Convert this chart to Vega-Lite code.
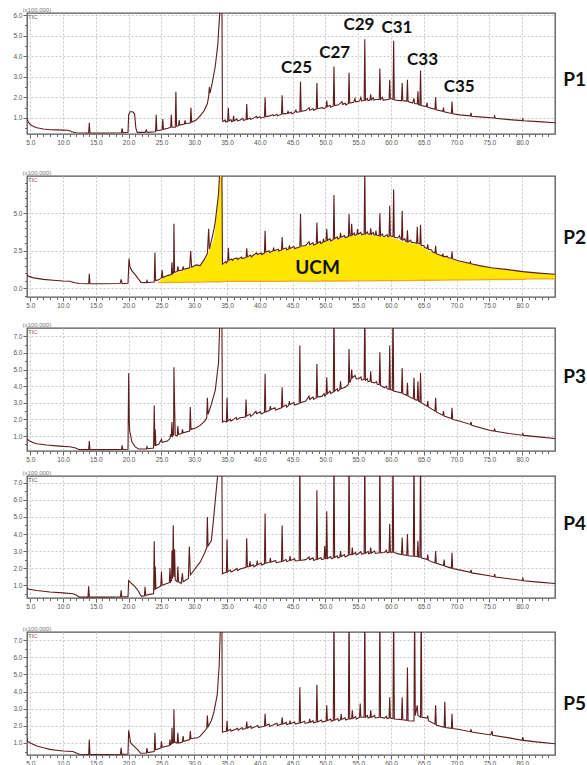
{
"$schema": "https://vega.github.io/schema/vega-lite/v6.json",
"padding": {"left": 12, "top": 5, "right": 0, "bottom": 0},
"background": "white",
"config": {
 "view": {"stroke": "#555", "strokeWidth": 1.3},
 "axis": {"labelFont": "Liberation Sans", "labelFontSize": 6.5, "labelColor": "#555", "tickColor": "#666", "domain": false, "gridColor": "#bbb", "gridDash": [2, 2], "gridWidth": 0.8, "labelPadding": 1, "labelOverlap": false, "labelBound": false},
 "axisY": {"titleAngle": 0, "titleAlign": "left", "titleBaseline": "bottom", "titleX": -5, "titleY": -1, "titleFontSize": 6, "titleFontWeight": "normal", "titleColor": "#777", "titleFont": "Liberation Sans"}
},
"datasets": {
 "p1": [
{"t":4.5,"v":0.98},{"t":4.7,"v":0.8},{"t":5.0,"v":0.68},{"t":5.5,"v":0.58},{"t":6.0,"v":0.52},{"t":7.0,"v":0.46},{"t":8.0,"v":0.43},{"t":9.0,"v":0.42},{"t":10.0,"v":0.41},{"t":10.8,"v":0.40},{"t":11.3,"v":0.33},{"t":12.0,"v":0.28},{"t":13.9,"v":0.27},{"t":14.0,"v":0.76},{"t":14.1,"v":0.27},{"t":16.0,"v":0.27},{"t":18.9,"v":0.28},{"t":19.0,"v":0.5},{"t":19.1,"v":0.28},{"t":19.9,"v":0.3},{"t":20.0,"v":1.15},{"t":20.2,"v":1.3},{"t":20.6,"v":1.3},{"t":20.9,"v":1.2},{"t":21.1,"v":0.5},{"t":21.3,"v":0.3},{"t":22.5,"v":0.3},{"t":22.7,"v":0.42},{"t":22.8,"v":0.3},{"t":24.1,"v":0.33},{"t":24.2,"v":1.15},{"t":24.3,"v":0.38},{"t":25.1,"v":0.42},{"t":25.2,"v":0.95},{"t":25.3,"v":0.45},{"t":26.0,"v":0.5},{"t":26.4,"v":0.55},{"t":26.5,"v":1.15},{"t":26.6,"v":0.55},{"t":27.1,"v":0.55},{"t":27.2,"v":2.27},{"t":27.3,"v":0.6},{"t":27.6,"v":0.62},{"t":27.7,"v":0.9},{"t":27.8,"v":0.65},{"t":28.5,"v":0.7},{"t":28.6,"v":0.88},{"t":28.7,"v":0.72},{"t":29.4,"v":0.75},{"t":29.5,"v":1.5},{"t":29.6,"v":0.8},{"t":30.3,"v":0.9},{"t":30.9,"v":1.1},{"t":31.5,"v":1.35},{"t":32.0,"v":1.7},{"t":32.2,"v":2.05},{"t":32.3,"v":2.5},{"t":32.4,"v":2.2},{"t":32.8,"v":2.8},{"t":33.2,"v":3.5},{"t":33.6,"v":4.6},{"t":33.9,"v":6.2},{"t":34.1,"v":8},{"t":34.2,"v":8},{"t":34.3,"v":0.9},{"t":34.4,"v":0.82},{"t":34.7,"v":0.9},{"t":34.8,"v":0.8},{"t":35.1,"v":0.85},{"t":35.2,"v":1.5},{"t":35.3,"v":0.85},{"t":35.6,"v":0.92},{"t":35.7,"v":0.82},{"t":35.9,"v":0.85},{"t":36.0,"v":1.1},{"t":36.1,"v":0.86},{"t":36.5,"v":0.95},{"t":36.6,"v":0.86},{"t":37.0,"v":0.9},{"t":37.4,"v":0.98},{"t":37.5,"v":0.88},{"t":37.9,"v":0.92},{"t":38.0,"v":1.68},{"t":38.1,"v":0.93},{"t":38.5,"v":1.0},{"t":38.6,"v":0.93},{"t":39.0,"v":0.98},{"t":39.5,"v":1.08},{"t":39.6,"v":1.0},{"t":40.0,"v":1.06},{"t":40.1,"v":0.99},{"t":40.7,"v":1.05},{"t":40.8,"v":2.0},{"t":40.9,"v":1.06},{"t":41.5,"v":1.1},{"t":42.0,"v":1.16},{"t":42.1,"v":1.1},{"t":42.6,"v":1.18},{"t":42.7,"v":1.1},{"t":43.3,"v":1.18},{"t":43.4,"v":2.1},{"t":43.5,"v":1.2},{"t":44.2,"v":1.22},{"t":44.3,"v":1.32},{"t":44.4,"v":1.23},{"t":44.8,"v":1.28},{"t":44.9,"v":1.2},{"t":45.3,"v":1.27},{"t":45.5,"v":1.38},{"t":45.6,"v":1.28},{"t":46.1,"v":1.3},{"t":46.2,"v":2.76},{"t":46.3,"v":1.32},{"t":47.0,"v":1.36},{"t":47.5,"v":1.5},{"t":47.6,"v":1.38},{"t":48.1,"v":1.45},{"t":48.2,"v":1.37},{"t":48.6,"v":1.43},{"t":48.7,"v":2.7},{"t":48.8,"v":1.45},{"t":49.5,"v":1.5},{"t":49.8,"v":1.45},{"t":50.1,"v":1.52},{"t":50.2,"v":1.85},{"t":50.3,"v":1.55},{"t":50.7,"v":1.62},{"t":50.8,"v":1.52},{"t":51.2,"v":1.58},{"t":51.3,"v":3.5},{"t":51.4,"v":1.6},{"t":52.0,"v":1.64},{"t":52.5,"v":1.8},{"t":52.6,"v":1.66},{"t":53.0,"v":1.72},{"t":53.1,"v":1.63},{"t":53.5,"v":1.7},{"t":53.6,"v":3.2},{"t":53.7,"v":1.72},{"t":54.3,"v":1.76},{"t":54.5,"v":1.95},{"t":54.6,"v":1.78},{"t":55.2,"v":1.82},{"t":55.4,"v":2.0},{"t":55.5,"v":1.83},{"t":55.9,"v":1.85},{"t":56.0,"v":4.83},{"t":56.1,"v":1.86},{"t":56.4,"v":1.95},{"t":56.5,"v":1.84},{"t":56.8,"v":1.88},{"t":56.9,"v":2.15},{"t":57.0,"v":1.88},{"t":57.3,"v":1.98},{"t":57.4,"v":1.86},{"t":57.6,"v":1.9},{"t":58.2,"v":1.9},{"t":58.3,"v":3.4},{"t":58.4,"v":1.9},{"t":58.7,"v":2.0},{"t":58.8,"v":1.86},{"t":59.0,"v":1.88},{"t":59.7,"v":1.9},{"t":59.8,"v":2.85},{"t":59.9,"v":1.95},{"t":60.3,"v":1.9},{"t":60.4,"v":4.75},{"t":60.5,"v":1.88},{"t":61.0,"v":1.85},{"t":61.6,"v":1.84},{"t":61.7,"v":2.7},{"t":61.8,"v":1.84},{"t":62.4,"v":1.82},{"t":62.5,"v":2.85},{"t":62.6,"v":1.8},{"t":63.3,"v":1.72},{"t":63.5,"v":1.95},{"t":63.6,"v":1.7},{"t":64.0,"v":1.68},{"t":64.1,"v":2.3},{"t":64.2,"v":1.65},{"t":64.4,"v":1.62},{"t":64.5,"v":3.3},{"t":64.6,"v":1.6},{"t":65.4,"v":1.55},{"t":65.5,"v":1.75},{"t":65.6,"v":1.52},{"t":66.7,"v":1.42},{"t":66.8,"v":2.0},{"t":66.9,"v":1.4},{"t":67.9,"v":1.32},{"t":68.0,"v":1.5},{"t":68.1,"v":1.3},{"t":69.2,"v":1.22},{"t":69.3,"v":1.8},{"t":69.4,"v":1.2},{"t":70.5,"v":1.15},{"t":72.1,"v":1.1},{"t":72.2,"v":1.25},{"t":72.3,"v":1.08},{"t":73.5,"v":1.05},{"t":75.7,"v":1.0},{"t":75.8,"v":1.1},{"t":75.9,"v":0.98},{"t":78.0,"v":0.92},{"t":80.0,"v":0.87},{"t":80.1,"v":0.95},{"t":80.2,"v":0.86},{"t":82.5,"v":0.82},{"t":85.0,"v":0.77}
 ],
 "p2": [
{"t":4.5,"v":0.87},{"t":4.8,"v":0.78},{"t":5.5,"v":0.68},{"t":7.0,"v":0.58},{"t":8.5,"v":0.52},{"t":10.0,"v":0.47},{"t":11.0,"v":0.45},{"t":11.8,"v":0.35},{"t":12.5,"v":0.3},{"t":13.9,"v":0.29},{"t":14.0,"v":0.96},{"t":14.1,"v":0.29},{"t":16.0,"v":0.29},{"t":18.7,"v":0.3},{"t":18.85,"v":0.58},{"t":19.0,"v":0.3},{"t":19.9,"v":0.32},{"t":20.05,"v":1.97},{"t":20.2,"v":1.4},{"t":20.5,"v":1.15},{"t":21.0,"v":0.9},{"t":21.5,"v":0.6},{"t":21.9,"v":0.38},{"t":22.7,"v":0.36},{"t":22.8,"v":0.5},{"t":22.9,"v":0.37},{"t":23.9,"v":0.4},{"t":24.0,"v":2.37},{"t":24.1,"v":0.5},{"t":24.6,"v":0.55},{"t":25.0,"v":0.7},{"t":25.1,"v":1.2},{"t":25.2,"v":0.7},{"t":26.0,"v":0.85},{"t":26.5,"v":0.9},{"t":26.6,"v":1.73},{"t":26.7,"v":0.95},{"t":26.85,"v":1.0},{"t":26.9,"v":4.3},{"t":27.0,"v":1.05},{"t":27.4,"v":1.1},{"t":27.5,"v":1.45},{"t":27.6,"v":1.15},{"t":28.2,"v":1.2},{"t":28.3,"v":1.45},{"t":28.4,"v":1.25},{"t":29.3,"v":1.35},{"t":29.45,"v":2.48},{"t":29.6,"v":1.4},{"t":30.3,"v":1.55},{"t":30.9,"v":1.5},{"t":31.5,"v":1.9},{"t":32.0,"v":2.3},{"t":32.2,"v":3.96},{"t":32.3,"v":2.6},{"t":32.8,"v":3.5},{"t":33.2,"v":4.4},{"t":33.7,"v":6.3},{"t":33.9,"v":8},{"t":34.2,"v":9},{"t":34.3,"v":1.59},{"t":34.5,"v":1.65},{"t":34.8,"v":1.78},{"t":34.9,"v":1.68},{"t":35.1,"v":1.8},{"t":35.2,"v":2.7},{"t":35.3,"v":1.85},{"t":35.7,"v":1.95},{"t":35.8,"v":1.85},{"t":36.0,"v":1.94},{"t":36.5,"v":2.02},{"t":36.6,"v":1.92},{"t":37.2,"v":2.08},{"t":37.3,"v":1.97},{"t":37.9,"v":2.05},{"t":38.0,"v":2.66},{"t":38.1,"v":2.1},{"t":38.6,"v":2.2},{"t":38.7,"v":2.08},{"t":39.0,"v":2.2},{"t":39.5,"v":2.35},{"t":39.6,"v":2.25},{"t":40.2,"v":2.35},{"t":40.3,"v":2.24},{"t":40.7,"v":2.35},{"t":40.8,"v":3.83},{"t":40.9,"v":2.4},{"t":41.4,"v":2.5},{"t":41.5,"v":2.38},{"t":42.0,"v":2.5},{"t":42.1,"v":2.7},{"t":42.2,"v":2.5},{"t":42.8,"v":2.6},{"t":42.9,"v":2.48},{"t":43.3,"v":2.55},{"t":43.4,"v":3.42},{"t":43.5,"v":2.6},{"t":44.0,"v":2.68},{"t":44.1,"v":2.56},{"t":44.4,"v":2.62},{"t":44.5,"v":2.85},{"t":44.6,"v":2.65},{"t":45.2,"v":2.78},{"t":45.3,"v":2.64},{"t":46.1,"v":2.75},{"t":46.2,"v":4.95},{"t":46.3,"v":2.8},{"t":47.0,"v":2.85},{"t":47.5,"v":3.1},{"t":47.6,"v":2.9},{"t":48.1,"v":3.02},{"t":48.2,"v":2.88},{"t":48.6,"v":2.95},{"t":48.7,"v":4.38},{"t":48.8,"v":3.0},{"t":49.2,"v":3.12},{"t":49.3,"v":2.98},{"t":49.6,"v":3.05},{"t":49.7,"v":3.3},{"t":49.8,"v":3.1},{"t":50.1,"v":3.15},{"t":50.2,"v":3.96},{"t":50.3,"v":3.18},{"t":50.7,"v":3.3},{"t":50.8,"v":3.15},{"t":51.2,"v":3.25},{"t":51.3,"v":6.22},{"t":51.4,"v":3.3},{"t":51.8,"v":3.42},{"t":51.9,"v":3.28},{"t":52.2,"v":3.35},{"t":52.3,"v":3.7},{"t":52.4,"v":3.4},{"t":52.9,"v":3.52},{"t":53.0,"v":3.38},{"t":53.5,"v":3.45},{"t":53.6,"v":4.95},{"t":53.7,"v":3.5},{"t":53.9,"v":3.5},{"t":54.0,"v":4.3},{"t":54.1,"v":3.55},{"t":54.4,"v":3.68},{"t":54.5,"v":3.52},{"t":54.8,"v":3.6},{"t":54.9,"v":3.95},{"t":55.0,"v":3.6},{"t":55.4,"v":3.72},{"t":55.5,"v":3.58},{"t":55.9,"v":3.62},{"t":56.0,"v":8},{"t":56.1,"v":3.62},{"t":56.4,"v":3.75},{"t":56.5,"v":3.6},{"t":56.8,"v":3.6},{"t":56.9,"v":4.0},{"t":57.0,"v":3.6},{"t":57.3,"v":3.72},{"t":57.4,"v":3.55},{"t":57.6,"v":3.55},{"t":57.7,"v":3.85},{"t":57.8,"v":3.55},{"t":58.2,"v":3.5},{"t":58.3,"v":5.0},{"t":58.4,"v":3.5},{"t":58.7,"v":3.62},{"t":58.8,"v":3.46},{"t":59.0,"v":3.45},{"t":59.4,"v":3.58},{"t":59.5,"v":3.44},{"t":59.7,"v":3.45},{"t":59.8,"v":5.5},{"t":59.9,"v":3.5},{"t":60.3,"v":3.45},{"t":60.4,"v":6.6},{"t":60.5,"v":3.4},{"t":61.0,"v":3.35},{"t":61.3,"v":3.5},{"t":61.4,"v":3.3},{"t":61.6,"v":3.25},{"t":61.7,"v":5.17},{"t":61.8,"v":3.2},{"t":62.1,"v":3.3},{"t":62.2,"v":3.14},{"t":62.4,"v":3.1},{"t":62.5,"v":3.87},{"t":62.6,"v":3.08},{"t":63.0,"v":3.2},{"t":63.1,"v":3.05},{"t":63.5,"v":3.05},{"t":63.9,"v":3.0},{"t":64.0,"v":4.1},{"t":64.1,"v":3.0},{"t":64.4,"v":2.95},{"t":64.5,"v":4.23},{"t":64.6,"v":2.85},{"t":65.0,"v":2.85},{"t":65.1,"v":2.72},{"t":65.5,"v":2.65},{"t":65.6,"v":2.93},{"t":65.7,"v":2.6},{"t":66.2,"v":2.55},{"t":66.3,"v":2.42},{"t":66.7,"v":2.35},{"t":66.8,"v":2.82},{"t":66.9,"v":2.3},{"t":67.8,"v":2.15},{"t":67.9,"v":2.3},{"t":68.0,"v":2.1},{"t":68.6,"v":2.12},{"t":68.7,"v":2.03},{"t":69.2,"v":2.0},{"t":69.3,"v":2.44},{"t":69.4,"v":1.95},{"t":70.4,"v":1.81},{"t":72.0,"v":1.65},{"t":72.1,"v":1.75},{"t":72.2,"v":1.62},{"t":73.5,"v":1.5},{"t":75.3,"v":1.36},{"t":77.5,"v":1.25},{"t":80.1,"v":1.1},{"t":82.5,"v":1.0},{"t":85.0,"v":0.92}
 ],
 "ucm": [
{"t":24.5,"top":0.36,"bot":0.36},{"t":25.0,"top":0.6,"bot":0.36},{"t":26.0,"top":0.8,"bot":0.37},{"t":27.0,"top":0.95,"bot":0.38},{"t":28.0,"top":1.1,"bot":0.38},{"t":29.0,"top":1.3,"bot":0.39},{"t":30.0,"top":1.45,"bot":0.4},{"t":31.0,"top":1.5,"bot":0.4},{"t":32.0,"top":2.2,"bot":0.41},{"t":33.0,"top":3.3,"bot":0.42},{"t":33.7,"top":6.2,"bot":0.42},{"t":33.9,"top":8,"bot":0.42},{"t":34.2,"top":9,"bot":0.43},{"t":34.3,"top":1.55,"bot":0.43},{"t":35.0,"top":1.75,"bot":0.44},{"t":36.0,"top":1.9,"bot":0.44},{"t":38.0,"top":2.05,"bot":0.45},{"t":40.0,"top":2.3,"bot":0.45},{"t":42.0,"top":2.45,"bot":0.45},{"t":45.0,"top":2.65,"bot":0.46},{"t":48.0,"top":2.9,"bot":0.46},{"t":50.0,"top":3.1,"bot":0.47},{"t":52.0,"top":3.3,"bot":0.47},{"t":54.0,"top":3.5,"bot":0.48},{"t":56.0,"top":3.58,"bot":0.48},{"t":58.0,"top":3.48,"bot":0.49},{"t":60.0,"top":3.4,"bot":0.5},{"t":62.0,"top":3.08,"bot":0.5},{"t":64.0,"top":2.95,"bot":0.51},{"t":65.0,"top":2.7,"bot":0.52},{"t":66.0,"top":2.45,"bot":0.52},{"t":68.0,"top":2.1,"bot":0.53},{"t":70.0,"top":1.83,"bot":0.54},{"t":72.0,"top":1.63,"bot":0.55},{"t":75.0,"top":1.37,"bot":0.56},{"t":78.0,"top":1.2,"bot":0.57},{"t":80.5,"top":1.1,"bot":0.58},{"t":80.6,"top":1.09,"bot":0.62},{"t":82.0,"top":1.0,"bot":0.62},{"t":85.0,"top":0.92,"bot":0.62}
 ],
 "p3": [
{"t":4.5,"v":0.84},{"t":4.8,"v":0.72},{"t":5.5,"v":0.6},{"t":6.0,"v":0.54},{"t":7.5,"v":0.46},{"t":9.0,"v":0.41},{"t":10.0,"v":0.38},{"t":11.0,"v":0.36},{"t":11.8,"v":0.3},{"t":12.5,"v":0.18},{"t":13.9,"v":0.18},{"t":14.0,"v":0.7},{"t":14.1,"v":0.18},{"t":16.0,"v":0.18},{"t":18.9,"v":0.19},{"t":19.0,"v":0.44},{"t":19.1,"v":0.19},{"t":19.9,"v":0.2},{"t":20.0,"v":4.78},{"t":20.1,"v":1.9},{"t":20.15,"v":1.34},{"t":20.5,"v":0.64},{"t":21.0,"v":0.35},{"t":21.5,"v":0.22},{"t":22.7,"v":0.22},{"t":22.8,"v":0.35},{"t":22.9,"v":0.24},{"t":23.8,"v":0.28},{"t":23.9,"v":2.84},{"t":24.0,"v":0.4},{"t":24.05,"v":1.4},{"t":24.15,"v":0.45},{"t":24.6,"v":0.5},{"t":25.0,"v":0.8},{"t":25.1,"v":0.62},{"t":25.9,"v":0.7},{"t":26.3,"v":0.85},{"t":26.4,"v":1.1},{"t":26.5,"v":0.95},{"t":26.6,"v":1.84},{"t":26.7,"v":1.0},{"t":26.85,"v":1.1},{"t":26.9,"v":5.14},{"t":27.0,"v":2.9},{"t":27.1,"v":1.05},{"t":27.4,"v":1.0},{"t":27.5,"v":1.6},{"t":27.6,"v":1.1},{"t":28.1,"v":1.15},{"t":28.2,"v":1.4},{"t":28.3,"v":1.2},{"t":29.3,"v":1.3},{"t":29.4,"v":2.74},{"t":29.5,"v":1.4},{"t":30.3,"v":1.5},{"t":30.9,"v":1.64},{"t":31.6,"v":1.9},{"t":31.9,"v":2.1},{"t":32.0,"v":3.3},{"t":32.1,"v":2.3},{"t":32.6,"v":2.9},{"t":33.2,"v":3.74},{"t":33.7,"v":5.4},{"t":33.9,"v":8},{"t":34.2,"v":9},{"t":34.3,"v":1.84},{"t":34.5,"v":1.9},{"t":34.9,"v":1.85},{"t":35.0,"v":3.3},{"t":35.1,"v":1.9},{"t":35.5,"v":2.02},{"t":35.6,"v":1.9},{"t":36.0,"v":2.0},{"t":36.4,"v":2.12},{"t":36.5,"v":1.98},{"t":37.0,"v":2.1},{"t":37.8,"v":2.15},{"t":37.9,"v":3.2},{"t":38.0,"v":2.2},{"t":38.5,"v":2.32},{"t":38.6,"v":2.18},{"t":39.0,"v":2.3},{"t":39.4,"v":2.5},{"t":39.5,"v":2.35},{"t":40.1,"v":2.46},{"t":40.2,"v":2.33},{"t":40.7,"v":2.42},{"t":40.8,"v":4.74},{"t":40.9,"v":2.45},{"t":41.5,"v":2.55},{"t":41.6,"v":2.8},{"t":41.7,"v":2.6},{"t":42.3,"v":2.7},{"t":42.4,"v":2.56},{"t":43.3,"v":2.7},{"t":43.4,"v":3.94},{"t":43.5,"v":2.75},{"t":44.0,"v":2.88},{"t":44.1,"v":2.74},{"t":44.4,"v":2.85},{"t":44.5,"v":3.1},{"t":44.6,"v":2.9},{"t":45.2,"v":3.02},{"t":45.3,"v":2.86},{"t":46.0,"v":2.95},{"t":46.1,"v":6.44},{"t":46.2,"v":3.0},{"t":47.0,"v":3.1},{"t":47.5,"v":3.4},{"t":47.6,"v":3.2},{"t":48.1,"v":3.35},{"t":48.2,"v":3.2},{"t":48.6,"v":3.3},{"t":48.7,"v":5.34},{"t":48.8,"v":3.35},{"t":49.5,"v":3.4},{"t":49.8,"v":3.55},{"t":49.9,"v":3.4},{"t":50.1,"v":3.5},{"t":50.2,"v":4.54},{"t":50.3,"v":3.55},{"t":50.7,"v":3.7},{"t":50.8,"v":3.55},{"t":51.2,"v":3.65},{"t":51.3,"v":9},{"t":51.4,"v":3.7},{"t":51.8,"v":3.85},{"t":51.9,"v":3.7},{"t":52.2,"v":3.8},{"t":52.3,"v":4.3},{"t":52.4,"v":3.85},{"t":53.0,"v":3.94},{"t":53.5,"v":4.1},{"t":53.6,"v":6.24},{"t":53.7,"v":4.2},{"t":53.9,"v":4.4},{"t":54.0,"v":5.0},{"t":54.1,"v":4.5},{"t":54.5,"v":4.64},{"t":54.7,"v":4.45},{"t":55.0,"v":4.44},{"t":55.4,"v":4.55},{"t":55.5,"v":4.38},{"t":55.9,"v":4.4},{"t":56.0,"v":9},{"t":56.1,"v":4.35},{"t":56.4,"v":4.45},{"t":56.5,"v":4.28},{"t":56.8,"v":4.3},{"t":56.9,"v":4.9},{"t":57.0,"v":4.25},{"t":57.5,"v":4.2},{"t":57.8,"v":4.28},{"t":57.9,"v":4.12},{"t":58.2,"v":4.1},{"t":58.3,"v":6.04},{"t":58.4,"v":4.05},{"t":59.0,"v":3.9},{"t":59.3,"v":4.0},{"t":59.4,"v":3.85},{"t":59.7,"v":3.8},{"t":59.8,"v":6.44},{"t":59.9,"v":3.8},{"t":60.2,"v":3.75},{"t":60.3,"v":9},{"t":60.4,"v":3.7},{"t":61.0,"v":3.65},{"t":61.6,"v":3.6},{"t":61.7,"v":5.1},{"t":61.8,"v":3.55},{"t":62.4,"v":3.45},{"t":62.5,"v":4.2},{"t":62.6,"v":3.4},{"t":63.4,"v":3.25},{"t":63.5,"v":4.5},{"t":63.6,"v":3.2},{"t":64.0,"v":3.15},{"t":64.1,"v":4.3},{"t":64.2,"v":3.1},{"t":64.4,"v":3.05},{"t":64.5,"v":4.8},{"t":64.6,"v":3.0},{"t":65.5,"v":2.8},{"t":65.6,"v":3.1},{"t":65.7,"v":2.75},{"t":66.7,"v":2.5},{"t":66.8,"v":3.3},{"t":66.9,"v":2.45},{"t":67.9,"v":2.25},{"t":68.0,"v":2.5},{"t":68.1,"v":2.2},{"t":69.2,"v":2.05},{"t":69.3,"v":2.7},{"t":69.4,"v":2.0},{"t":70.4,"v":1.9},{"t":72.1,"v":1.7},{"t":72.2,"v":1.85},{"t":72.3,"v":1.65},{"t":75.0,"v":1.35},{"t":75.7,"v":1.3},{"t":75.8,"v":1.45},{"t":75.9,"v":1.28},{"t":78.0,"v":1.15},{"t":80.0,"v":1.05},{"t":80.1,"v":1.15},{"t":80.2,"v":1.04},{"t":82.5,"v":0.95},{"t":85.0,"v":0.85}
 ],
 "p4": [
{"t":4.5,"v":0.82},{"t":4.8,"v":0.76},{"t":6.0,"v":0.69},{"t":8.0,"v":0.6},{"t":10.0,"v":0.55},{"t":11.5,"v":0.5},{"t":12.0,"v":0.42},{"t":12.5,"v":0.3},{"t":13.8,"v":0.3},{"t":13.9,"v":0.94},{"t":14.0,"v":0.3},{"t":16.0,"v":0.3},{"t":18.75,"v":0.31},{"t":18.85,"v":0.7},{"t":18.95,"v":0.31},{"t":19.9,"v":0.33},{"t":20.0,"v":1.27},{"t":20.3,"v":1.15},{"t":21.0,"v":0.9},{"t":21.5,"v":0.65},{"t":21.8,"v":0.42},{"t":22.0,"v":0.35},{"t":22.4,"v":0.38},{"t":22.5,"v":0.9},{"t":22.6,"v":0.4},{"t":23.0,"v":0.45},{"t":23.8,"v":0.5},{"t":23.9,"v":3.57},{"t":24.0,"v":0.7},{"t":24.05,"v":2.1},{"t":24.15,"v":0.8},{"t":24.5,"v":0.87},{"t":24.9,"v":0.95},{"t":25.0,"v":1.8},{"t":25.1,"v":1.0},{"t":25.5,"v":1.05},{"t":26.2,"v":1.15},{"t":26.3,"v":2.0},{"t":26.4,"v":1.2},{"t":26.55,"v":1.3},{"t":26.6,"v":3.04},{"t":26.7,"v":1.4},{"t":26.8,"v":4.51},{"t":26.9,"v":1.5},{"t":27.0,"v":3.1},{"t":27.1,"v":1.3},{"t":27.4,"v":1.2},{"t":27.5,"v":2.1},{"t":27.6,"v":1.2},{"t":28.0,"v":1.1},{"t":28.2,"v":1.7},{"t":28.3,"v":1.2},{"t":29.1,"v":1.4},{"t":29.25,"v":3.27},{"t":29.4,"v":1.6},{"t":30.0,"v":1.9},{"t":30.5,"v":2.16},{"t":30.9,"v":2.35},{"t":31.6,"v":2.9},{"t":31.9,"v":3.2},{"t":32.0,"v":5.0},{"t":32.1,"v":3.3},{"t":32.6,"v":3.6},{"t":32.9,"v":4.7},{"t":33.4,"v":6.76},{"t":33.7,"v":8},{"t":34.2,"v":9},{"t":34.3,"v":1.67},{"t":34.5,"v":1.72},{"t":34.9,"v":1.75},{"t":35.0,"v":3.69},{"t":35.1,"v":1.78},{"t":35.5,"v":1.9},{"t":35.6,"v":1.78},{"t":36.0,"v":1.85},{"t":36.5,"v":1.98},{"t":36.6,"v":1.86},{"t":37.0,"v":1.95},{"t":37.9,"v":2.05},{"t":38.0,"v":3.75},{"t":38.1,"v":2.08},{"t":38.4,"v":2.1},{"t":38.5,"v":2.4},{"t":38.6,"v":2.12},{"t":39.0,"v":2.2},{"t":39.1,"v":2.08},{"t":39.5,"v":2.18},{"t":39.6,"v":2.45},{"t":39.7,"v":2.2},{"t":40.2,"v":2.3},{"t":40.3,"v":2.18},{"t":40.7,"v":2.25},{"t":40.8,"v":5.2},{"t":40.9,"v":2.28},{"t":41.5,"v":2.35},{"t":41.6,"v":2.6},{"t":41.7,"v":2.35},{"t":42.4,"v":2.45},{"t":42.5,"v":2.32},{"t":43.3,"v":2.38},{"t":43.4,"v":4.5},{"t":43.5,"v":2.4},{"t":44.0,"v":2.5},{"t":44.1,"v":2.38},{"t":44.5,"v":2.45},{"t":44.6,"v":2.7},{"t":44.7,"v":2.45},{"t":45.3,"v":2.55},{"t":45.4,"v":2.42},{"t":46.0,"v":2.45},{"t":46.1,"v":9},{"t":46.2,"v":2.45},{"t":47.0,"v":2.5},{"t":47.5,"v":2.65},{"t":47.6,"v":2.5},{"t":48.1,"v":2.6},{"t":48.2,"v":2.46},{"t":48.6,"v":2.5},{"t":48.7,"v":6.57},{"t":48.8,"v":2.52},{"t":49.3,"v":2.62},{"t":49.4,"v":2.5},{"t":49.8,"v":2.55},{"t":49.9,"v":3.3},{"t":50.0,"v":2.55},{"t":50.1,"v":2.55},{"t":50.2,"v":5.33},{"t":50.3,"v":2.56},{"t":50.8,"v":2.68},{"t":50.9,"v":2.55},{"t":51.2,"v":2.6},{"t":51.3,"v":9},{"t":51.4,"v":2.62},{"t":51.8,"v":2.72},{"t":51.9,"v":2.6},{"t":52.2,"v":2.65},{"t":52.3,"v":3.0},{"t":52.4,"v":2.68},{"t":52.9,"v":2.8},{"t":53.0,"v":2.66},{"t":53.5,"v":2.75},{"t":53.6,"v":9},{"t":53.7,"v":2.78},{"t":54.0,"v":2.8},{"t":54.1,"v":3.2},{"t":54.2,"v":2.8},{"t":54.6,"v":2.92},{"t":54.7,"v":2.78},{"t":55.0,"v":2.84},{"t":55.4,"v":2.96},{"t":55.5,"v":2.82},{"t":55.9,"v":2.86},{"t":56.0,"v":9},{"t":56.1,"v":2.86},{"t":56.5,"v":2.98},{"t":56.6,"v":2.84},{"t":56.8,"v":2.88},{"t":56.9,"v":3.2},{"t":57.0,"v":2.88},{"t":57.5,"v":3.0},{"t":57.6,"v":2.86},{"t":58.2,"v":2.9},{"t":58.3,"v":9},{"t":58.4,"v":2.9},{"t":59.0,"v":2.92},{"t":59.3,"v":3.05},{"t":59.4,"v":2.9},{"t":59.7,"v":2.93},{"t":59.8,"v":4.6},{"t":59.9,"v":2.94},{"t":60.2,"v":2.94},{"t":60.3,"v":9},{"t":60.4,"v":2.92},{"t":61.0,"v":2.85},{"t":61.6,"v":2.8},{"t":61.7,"v":3.8},{"t":61.8,"v":2.78},{"t":62.4,"v":2.75},{"t":62.5,"v":4.0},{"t":62.6,"v":2.72},{"t":63.4,"v":2.7},{"t":63.5,"v":9},{"t":63.6,"v":2.7},{"t":64.0,"v":2.68},{"t":64.1,"v":3.6},{"t":64.2,"v":2.65},{"t":64.4,"v":2.64},{"t":64.5,"v":9},{"t":64.6,"v":2.6},{"t":65.5,"v":2.5},{"t":65.6,"v":2.8},{"t":65.7,"v":2.45},{"t":66.7,"v":2.3},{"t":66.8,"v":3.0},{"t":66.9,"v":2.28},{"t":68.0,"v":2.15},{"t":68.1,"v":2.5},{"t":68.2,"v":2.12},{"t":69.2,"v":2.0},{"t":69.3,"v":2.9},{"t":69.4,"v":1.98},{"t":70.4,"v":1.9},{"t":72.1,"v":1.75},{"t":72.2,"v":1.9},{"t":72.3,"v":1.72},{"t":75.0,"v":1.55},{"t":75.7,"v":1.5},{"t":75.8,"v":1.65},{"t":75.9,"v":1.48},{"t":78.0,"v":1.38},{"t":80.0,"v":1.28},{"t":80.1,"v":1.4},{"t":80.2,"v":1.26},{"t":82.5,"v":1.18},{"t":85.0,"v":1.1}
 ],
 "p5": [
{"t":4.5,"v":1.25},{"t":4.6,"v":1.1},{"t":5.0,"v":1.0},{"t":6.0,"v":0.83},{"t":7.0,"v":0.72},{"t":8.0,"v":0.63},{"t":9.0,"v":0.58},{"t":10.0,"v":0.53},{"t":11.5,"v":0.5},{"t":12.0,"v":0.42},{"t":12.5,"v":0.34},{"t":13.9,"v":0.33},{"t":14.0,"v":1.2},{"t":14.1,"v":0.33},{"t":16.0,"v":0.33},{"t":18.75,"v":0.34},{"t":18.85,"v":0.72},{"t":18.95,"v":0.34},{"t":19.9,"v":0.36},{"t":20.0,"v":1.74},{"t":20.3,"v":1.0},{"t":21.0,"v":0.75},{"t":21.5,"v":0.55},{"t":21.8,"v":0.4},{"t":22.7,"v":0.42},{"t":22.8,"v":0.7},{"t":22.9,"v":0.44},{"t":23.9,"v":0.5},{"t":24.0,"v":1.6},{"t":24.1,"v":0.6},{"t":24.9,"v":0.7},{"t":25.0,"v":1.1},{"t":25.1,"v":0.75},{"t":26.2,"v":0.85},{"t":26.3,"v":1.2},{"t":26.4,"v":0.9},{"t":26.55,"v":0.95},{"t":26.6,"v":1.89},{"t":26.7,"v":1.0},{"t":26.85,"v":1.0},{"t":26.9,"v":2.96},{"t":27.0,"v":1.05},{"t":27.4,"v":1.0},{"t":27.5,"v":1.6},{"t":27.6,"v":1.0},{"t":28.2,"v":1.05},{"t":28.3,"v":1.4},{"t":28.4,"v":1.1},{"t":29.3,"v":1.2},{"t":29.4,"v":1.7},{"t":29.5,"v":1.25},{"t":30.5,"v":1.3},{"t":30.9,"v":1.4},{"t":31.6,"v":1.7},{"t":31.9,"v":1.85},{"t":32.0,"v":2.6},{"t":32.1,"v":1.95},{"t":32.6,"v":2.3},{"t":33.0,"v":2.8},{"t":33.5,"v":3.8},{"t":33.8,"v":5.5},{"t":34.0,"v":8},{"t":34.2,"v":9},{"t":34.3,"v":1.64},{"t":34.5,"v":1.66},{"t":34.9,"v":1.68},{"t":35.0,"v":2.3},{"t":35.1,"v":1.7},{"t":35.5,"v":1.8},{"t":35.6,"v":1.7},{"t":36.0,"v":1.75},{"t":36.6,"v":1.86},{"t":36.7,"v":1.75},{"t":37.3,"v":1.9},{"t":37.4,"v":1.8},{"t":37.9,"v":1.85},{"t":38.0,"v":2.25},{"t":38.1,"v":1.87},{"t":38.6,"v":1.98},{"t":38.7,"v":1.86},{"t":39.0,"v":1.9},{"t":39.7,"v":2.02},{"t":39.8,"v":1.9},{"t":40.7,"v":1.98},{"t":40.8,"v":2.7},{"t":40.9,"v":2.0},{"t":41.4,"v":2.1},{"t":41.5,"v":1.98},{"t":42.0,"v":2.05},{"t":42.6,"v":2.15},{"t":42.7,"v":2.02},{"t":43.3,"v":2.1},{"t":43.4,"v":2.5},{"t":43.5,"v":2.1},{"t":44.0,"v":2.2},{"t":44.1,"v":2.08},{"t":44.5,"v":2.12},{"t":44.6,"v":2.3},{"t":44.7,"v":2.12},{"t":45.3,"v":2.22},{"t":45.4,"v":2.1},{"t":46.0,"v":2.16},{"t":46.1,"v":4.25},{"t":46.2,"v":2.17},{"t":46.8,"v":2.27},{"t":46.9,"v":2.14},{"t":47.5,"v":2.2},{"t":47.6,"v":2.4},{"t":47.7,"v":2.2},{"t":48.1,"v":2.3},{"t":48.2,"v":2.18},{"t":48.6,"v":2.22},{"t":48.7,"v":4.4},{"t":48.8,"v":2.23},{"t":49.4,"v":2.34},{"t":49.5,"v":2.22},{"t":50.1,"v":2.28},{"t":50.2,"v":3.2},{"t":50.3,"v":2.3},{"t":50.8,"v":2.4},{"t":50.9,"v":2.27},{"t":51.2,"v":2.32},{"t":51.3,"v":9},{"t":51.4,"v":2.33},{"t":51.9,"v":2.43},{"t":52.0,"v":2.3},{"t":52.3,"v":2.36},{"t":52.4,"v":2.7},{"t":52.5,"v":2.37},{"t":53.0,"v":2.47},{"t":53.1,"v":2.34},{"t":53.5,"v":2.4},{"t":53.6,"v":9},{"t":53.7,"v":2.4},{"t":54.0,"v":2.42},{"t":54.1,"v":2.9},{"t":54.2,"v":2.43},{"t":54.6,"v":2.54},{"t":54.7,"v":2.4},{"t":55.0,"v":2.45},{"t":55.2,"v":2.5},{"t":55.3,"v":3.3},{"t":55.4,"v":2.5},{"t":55.9,"v":2.5},{"t":56.0,"v":9},{"t":56.1,"v":2.5},{"t":56.4,"v":2.6},{"t":56.5,"v":2.46},{"t":56.8,"v":2.5},{"t":56.9,"v":2.9},{"t":57.0,"v":2.5},{"t":57.5,"v":2.6},{"t":57.6,"v":2.46},{"t":58.2,"v":2.5},{"t":58.3,"v":9},{"t":58.4,"v":2.5},{"t":59.0,"v":2.45},{"t":59.3,"v":2.56},{"t":59.4,"v":2.42},{"t":59.7,"v":2.45},{"t":59.8,"v":3.67},{"t":59.9,"v":2.45},{"t":60.3,"v":2.42},{"t":60.4,"v":9},{"t":60.5,"v":2.4},{"t":61.0,"v":2.38},{"t":61.6,"v":2.36},{"t":61.7,"v":3.67},{"t":61.8,"v":2.35},{"t":62.4,"v":2.32},{"t":62.5,"v":5.4},{"t":62.6,"v":2.3},{"t":63.5,"v":2.28},{"t":63.6,"v":9},{"t":63.7,"v":2.6},{"t":64.0,"v":3.2},{"t":64.1,"v":2.6},{"t":64.5,"v":2.5},{"t":64.6,"v":9},{"t":64.7,"v":2.5},{"t":65.5,"v":2.45},{"t":65.6,"v":2.6},{"t":65.7,"v":2.3},{"t":66.7,"v":2.1},{"t":66.8,"v":3.2},{"t":66.9,"v":2.05},{"t":68.1,"v":1.92},{"t":68.2,"v":3.4},{"t":68.3,"v":1.9},{"t":69.2,"v":1.85},{"t":69.3,"v":2.7},{"t":69.4,"v":1.84},{"t":70.2,"v":1.8},{"t":72.1,"v":1.66},{"t":72.2,"v":1.8},{"t":72.3,"v":1.64},{"t":75.2,"v":1.47},{"t":75.4,"v":1.7},{"t":75.5,"v":1.45},{"t":78.0,"v":1.3},{"t":80.0,"v":1.16},{"t":80.1,"v":1.35},{"t":80.2,"v":1.15},{"t":82.5,"v":1.05},{"t":85.0,"v":0.96}
 ]
},
"spacing": 21,
"vconcat": [
 {"width": 528, "height": 121,
  "layer": [
   {"data": {"name": "p1"}, "mark": {"type": "line", "clip": true, "color": "#5e1c1c", "strokeWidth": 1.1},
    "encoding": {
     "x": {"field": "t", "type": "quantitative", "scale": {"domain": [4.5, 85], "nice": false, "zero": false}, "axis": {"title": null, "tickCount": 200, "values": [5,6,7,8,9,10,11,12,13,14,15,16,17,18,19,20,21,22,23,24,25,26,27,28,29,30,31,32,33,34,35,36,37,38,39,40,41,42,43,44,45,46,47,48,49,50,51,52,53,54,55,56,57,58,59,60,61,62,63,64,65,66,67,68,69,70,71,72,73,74,75,76,77,78,79,80,81,82,83,84], "labelExpr": "datum.value % 5 === 0 ? format(datum.value, '.1f') : ''", "labelOverlap": false, "tickSize": {"condition": {"test": "datum.value % 5 === 0", "value": 4}, "value": 2.5}, "gridOpacity": {"condition": {"test": "datum.value % 5 === 0", "value": 1}, "value": 0}}},
     "y": {"field": "v", "type": "quantitative", "scale": {"domain": [0.22, 6.1], "nice": false, "zero": false}, "axis": {"title": "(x100,000)", "tickCount": 200, "values": [0.5,1,1.5,2,2.5,3,3.5,4,4.5,5,5.5,6], "labelExpr": "datum.value % 1 === 0 ? format(datum.value, '.1f') : ''", "labelOverlap": false, "tickSize": {"condition": {"test": "datum.value % 1 === 0", "value": 4}, "value": 2.5}, "gridOpacity": {"condition": {"test": "datum.value % 1 === 0", "value": 1}, "value": 0}}}}},
   {"data": {"values": [{"s": "TIC"}]}, "mark": {"type": "text", "fontSize": 6, "color": "#8a5a5a", "align": "left", "baseline": "top", "dx": 1, "dy": 1, "font": "Liberation Sans"},
    "encoding": {"x": {"datum": 4.5, "type": "quantitative"}, "y": {"datum": 6.1, "type": "quantitative"}, "text": {"field": "s"}}},
   {"data": {"values": [{"label": "C25", "t": 45.6, "v": 3.43}, {"label": "C27", "t": 51.4, "v": 4.16}, {"label": "C29", "t": 55.1, "v": 5.51}, {"label": "C31", "t": 60.9, "v": 5.37}, {"label": "C33", "t": 64.8, "v": 3.82}, {"label": "C35", "t": 70.4, "v": 2.5}]},
    "mark": {"type": "text", "font": "Lato", "fontWeight": "bold", "fontSize": 17, "color": "#111"},
    "encoding": {"x": {"field": "t", "type": "quantitative"}, "y": {"field": "v", "type": "quantitative"}, "text": {"field": "label"}}},
   {"data": {"values": [{"s": "P1"}]}, "mark": {"type": "text", "font": "Lato", "fontWeight": "bold", "fontSize": 19, "color": "#111"},
    "encoding": {"x": {"datum": 88, "type": "quantitative"}, "y": {"datum": 2.84, "type": "quantitative"}, "text": {"field": "s"}}}
  ]},
 {"spacing": 10,
  "vconcat": [
   {"width": 528, "height": 121,
    "layer": [
     {"data": {"name": "ucm"}, "mark": {"type": "area", "clip": true, "color": "#ffe600", "opacity": 1},
      "encoding": {
       "x": {"field": "t", "type": "quantitative", "scale": {"domain": [4.5, 85], "nice": false, "zero": false}, "axis": {"title": null, "tickCount": 200, "values": [5,6,7,8,9,10,11,12,13,14,15,16,17,18,19,20,21,22,23,24,25,26,27,28,29,30,31,32,33,34,35,36,37,38,39,40,41,42,43,44,45,46,47,48,49,50,51,52,53,54,55,56,57,58,59,60,61,62,63,64,65,66,67,68,69,70,71,72,73,74,75,76,77,78,79,80,81,82,83,84], "labelExpr": "datum.value % 5 === 0 ? format(datum.value, '.1f') : ''", "labelOverlap": false, "tickSize": {"condition": {"test": "datum.value % 5 === 0", "value": 4}, "value": 2.5}, "gridOpacity": {"condition": {"test": "datum.value % 5 === 0", "value": 1}, "value": 0}}},
       "y": {"field": "top", "type": "quantitative", "scale": {"domain": [-0.6, 7.5], "nice": false, "zero": false}, "axis": {"title": "(x100,000)", "tickCount": 200, "values": [-0.5,0,0.5,1,1.5,2,2.5,3,3.5,4,4.5,5,5.5,6,6.5,7], "labelExpr": "datum.value % 2.5 === 0 ? format(datum.value, '.1f') : ''", "labelOverlap": false, "tickSize": {"condition": {"test": "datum.value % 2.5 === 0", "value": 4}, "value": 2.5}, "gridOpacity": {"condition": {"test": "datum.value % 2.5 === 0", "value": 1}, "value": 0}}},
       "y2": {"field": "bot"}}},
     {"data": {"name": "ucm"}, "mark": {"type": "line", "clip": true, "color": "#f5a623", "strokeWidth": 1.3},
      "encoding": {"x": {"field": "t", "type": "quantitative"}, "y": {"field": "bot", "type": "quantitative"}}},
     {"data": {"name": "p2"}, "mark": {"type": "line", "clip": true, "color": "#5e1c1c", "strokeWidth": 1.1},
      "encoding": {"x": {"field": "t", "type": "quantitative"}, "y": {"field": "v", "type": "quantitative"}}},
     {"data": {"values": [{"s": "TIC"}]}, "mark": {"type": "text", "fontSize": 6, "color": "#8a5a5a", "align": "left", "baseline": "top", "dx": 1, "dy": 1, "font": "Liberation Sans"},
      "encoding": {"x": {"datum": 4.5, "type": "quantitative"}, "y": {"datum": 7.5, "type": "quantitative"}, "text": {"field": "s"}}},
     {"data": {"values": [{"s": "UCM"}]}, "mark": {"type": "text", "font": "Lato", "fontWeight": "bold", "fontSize": 19, "color": "#111"},
      "encoding": {"x": {"datum": 48.8, "type": "quantitative"}, "y": {"datum": 1.34, "type": "quantitative"}, "text": {"field": "s"}}},
     {"data": {"values": [{"s": "P2"}]}, "mark": {"type": "text", "font": "Lato", "fontWeight": "bold", "fontSize": 19, "color": "#111"},
      "encoding": {"x": {"datum": 88, "type": "quantitative"}, "y": {"datum": 3.36, "type": "quantitative"}, "text": {"field": "s"}}}
    ]},
   {"spacing": 4,
    "vconcat": [
     {"width": 528, "height": 123,
      "layer": [
       {"data": {"name": "p3"}, "mark": {"type": "line", "clip": true, "color": "#5e1c1c", "strokeWidth": 1.1},
        "encoding": {
         "x": {"field": "t", "type": "quantitative", "scale": {"domain": [4.5, 85], "nice": false, "zero": false}, "axis": {"title": null, "tickCount": 200, "values": [5,6,7,8,9,10,11,12,13,14,15,16,17,18,19,20,21,22,23,24,25,26,27,28,29,30,31,32,33,34,35,36,37,38,39,40,41,42,43,44,45,46,47,48,49,50,51,52,53,54,55,56,57,58,59,60,61,62,63,64,65,66,67,68,69,70,71,72,73,74,75,76,77,78,79,80,81,82,83,84], "labelExpr": "datum.value % 5 === 0 ? format(datum.value, '.1f') : ''", "labelOverlap": false, "tickSize": {"condition": {"test": "datum.value % 5 === 0", "value": 4}, "value": 2.5}, "gridOpacity": {"condition": {"test": "datum.value % 5 === 0", "value": 1}, "value": 0}}},
         "y": {"field": "v", "type": "quantitative", "scale": {"domain": [0.1, 7.5], "nice": false, "zero": false}, "axis": {"title": "(x100,000)", "tickCount": 200, "values": [0.5,1,1.5,2,2.5,3,3.5,4,4.5,5,5.5,6,6.5,7], "labelExpr": "datum.value % 1 === 0 ? format(datum.value, '.1f') : ''", "labelOverlap": false, "tickSize": {"condition": {"test": "datum.value % 1 === 0", "value": 4}, "value": 2.5}, "gridOpacity": {"condition": {"test": "datum.value % 1 === 0", "value": 1}, "value": 0}}}}},
       {"data": {"values": [{"s": "TIC"}]}, "mark": {"type": "text", "fontSize": 6, "color": "#8a5a5a", "align": "left", "baseline": "top", "dx": 1, "dy": 1, "font": "Liberation Sans"},
        "encoding": {"x": {"datum": 4.5, "type": "quantitative"}, "y": {"datum": 7.5, "type": "quantitative"}, "text": {"field": "s"}}},
       {"data": {"values": [{"s": "P3"}]}, "mark": {"type": "text", "font": "Lato", "fontWeight": "bold", "fontSize": 19, "color": "#111"},
        "encoding": {"x": {"datum": 88, "type": "quantitative"}, "y": {"datum": 4.54, "type": "quantitative"}, "text": {"field": "s"}}}
      ]},
     {"spacing": 13,
      "vconcat": [
       {"width": 528, "height": 122,
        "layer": [
         {"data": {"name": "p4"}, "mark": {"type": "line", "clip": true, "color": "#5e1c1c", "strokeWidth": 1.1},
          "encoding": {
           "x": {"field": "t", "type": "quantitative", "scale": {"domain": [4.5, 85], "nice": false, "zero": false}, "axis": {"title": null, "tickCount": 200, "values": [5,6,7,8,9,10,11,12,13,14,15,16,17,18,19,20,21,22,23,24,25,26,27,28,29,30,31,32,33,34,35,36,37,38,39,40,41,42,43,44,45,46,47,48,49,50,51,52,53,54,55,56,57,58,59,60,61,62,63,64,65,66,67,68,69,70,71,72,73,74,75,76,77,78,79,80,81,82,83,84], "labelExpr": "datum.value % 5 === 0 ? format(datum.value, '.1f') : ''", "labelOverlap": false, "tickSize": {"condition": {"test": "datum.value % 5 === 0", "value": 4}, "value": 2.5}, "gridOpacity": {"condition": {"test": "datum.value % 5 === 0", "value": 1}, "value": 0}}},
           "y": {"field": "v", "type": "quantitative", "scale": {"domain": [0.25, 7.4], "nice": false, "zero": false}, "axis": {"title": "(x100,000)", "tickCount": 200, "values": [0.5,1,1.5,2,2.5,3,3.5,4,4.5,5,5.5,6,6.5,7], "labelExpr": "datum.value % 1 === 0 ? format(datum.value, '.1f') : ''", "labelOverlap": false, "tickSize": {"condition": {"test": "datum.value % 1 === 0", "value": 4}, "value": 2.5}, "gridOpacity": {"condition": {"test": "datum.value % 1 === 0", "value": 1}, "value": 0}}}}},
         {"data": {"values": [{"s": "TIC"}]}, "mark": {"type": "text", "fontSize": 6, "color": "#8a5a5a", "align": "left", "baseline": "top", "dx": 1, "dy": 1, "font": "Liberation Sans"},
          "encoding": {"x": {"datum": 4.5, "type": "quantitative"}, "y": {"datum": 7.4, "type": "quantitative"}, "text": {"field": "s"}}},
         {"data": {"values": [{"s": "P4"}]}, "mark": {"type": "text", "font": "Lato", "fontWeight": "bold", "fontSize": 19, "color": "#111"},
          "encoding": {"x": {"datum": 88, "type": "quantitative"}, "y": {"datum": 4.59, "type": "quantitative"}, "text": {"field": "s"}}}
        ]},
       {"width": 528, "height": 123,
        "layer": [
         {"data": {"name": "p5"}, "mark": {"type": "line", "clip": true, "color": "#5e1c1c", "strokeWidth": 1.1},
          "encoding": {
           "x": {"field": "t", "type": "quantitative", "scale": {"domain": [4.5, 85], "nice": false, "zero": false}, "axis": {"title": null, "tickCount": 200, "values": [5,6,7,8,9,10,11,12,13,14,15,16,17,18,19,20,21,22,23,24,25,26,27,28,29,30,31,32,33,34,35,36,37,38,39,40,41,42,43,44,45,46,47,48,49,50,51,52,53,54,55,56,57,58,59,60,61,62,63,64,65,66,67,68,69,70,71,72,73,74,75,76,77,78,79,80,81,82,83,84], "labelExpr": "datum.value % 5 === 0 ? format(datum.value, '.1f') : ''", "labelOverlap": false, "tickSize": {"condition": {"test": "datum.value % 5 === 0", "value": 4}, "value": 2.5}, "gridOpacity": {"condition": {"test": "datum.value % 5 === 0", "value": 1}, "value": 0}}},
           "y": {"field": "v", "type": "quantitative", "scale": {"domain": [0.3, 7.47], "nice": false, "zero": false}, "axis": {"title": "(x100,000)", "tickCount": 200, "values": [0.5,1,1.5,2,2.5,3,3.5,4,4.5,5,5.5,6,6.5,7], "labelExpr": "datum.value % 1 === 0 ? format(datum.value, '.1f') : ''", "labelOverlap": false, "tickSize": {"condition": {"test": "datum.value % 1 === 0", "value": 4}, "value": 2.5}, "gridOpacity": {"condition": {"test": "datum.value % 1 === 0", "value": 1}, "value": 0}}}}},
         {"data": {"values": [{"s": "TIC"}]}, "mark": {"type": "text", "fontSize": 6, "color": "#8a5a5a", "align": "left", "baseline": "top", "dx": 1, "dy": 1, "font": "Liberation Sans"},
          "encoding": {"x": {"datum": 4.5, "type": "quantitative"}, "y": {"datum": 7.47, "type": "quantitative"}, "text": {"field": "s"}}},
         {"data": {"values": [{"s": "P5"}]}, "mark": {"type": "text", "font": "Lato", "fontWeight": "bold", "fontSize": 19, "color": "#111"},
          "encoding": {"x": {"datum": 88, "type": "quantitative"}, "y": {"datum": 3.27, "type": "quantitative"}, "text": {"field": "s"}}}
        ]}
      ]}
    ]}
  ]}
]
}
